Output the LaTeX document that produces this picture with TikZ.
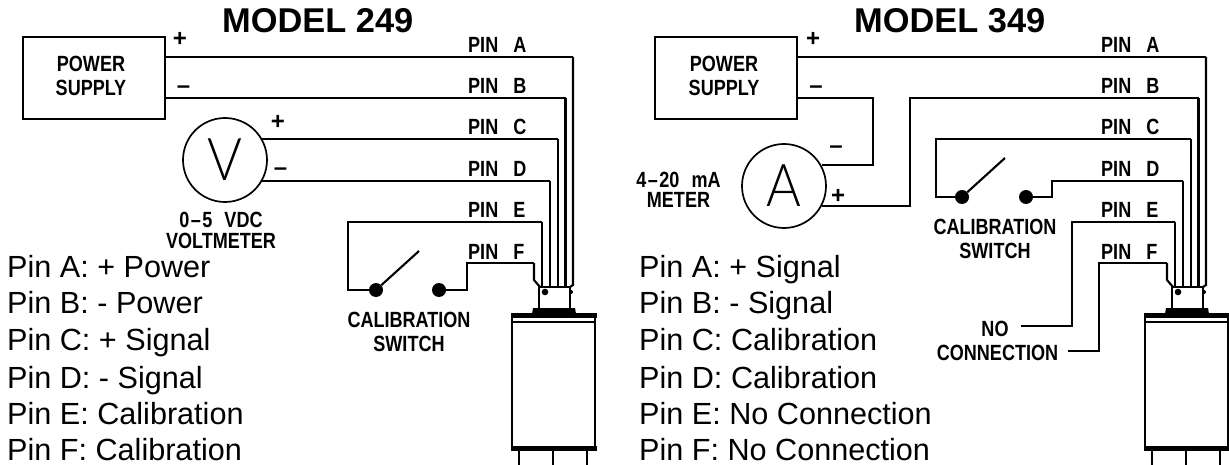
\documentclass[tikz,border=0pt]{standalone}
\usepackage{fontspec}
\setmainfont{Liberation Sans}
\newfontfamily\cadfont[FakeStretch=0.82]{Liberation Sans Bold}
\newfontfamily\thinfont[FakeStretch=0.9]{Lato Light}
\tikzset{
  x=1pt,y=-1pt,
  wire/.style={line width=2.1pt,line join=miter},
  thin wire/.style={line width=1.9pt},
  boxed/.style={draw,line width=2.1pt,minimum width=142pt,minimum height=82pt,inner sep=0pt,anchor=north west},
  meter/.style={draw,circle,line width=1.7pt,minimum size=84pt,inner sep=0pt,font=\fontsize{59}{59}\selectfont\thinfont},
  cad/.style={font=\fontsize{22}{#1}\selectfont\cadfont,align=center,inner sep=0pt},
  cadline/.style={font=\fontsize{22}{24}\selectfont\cadfont,inner sep=0pt,anchor=base},
  pinlab/.style={font=\fontsize{22}{22}\selectfont\cadfont,inner sep=0pt,anchor=base west},
  sign/.style={font=\fontsize{24}{24}\selectfont\bfseries,inner sep=0pt,anchor=base},
  title/.style={font=\fontsize{34.4}{34.4}\selectfont\bfseries,inner sep=0pt,anchor=base west},
  listing/.style={font=\fontsize{30.6}{30.6}\selectfont,inner sep=0pt,anchor=base west},
  dot/.style={circle,fill=black,minimum size=14pt,inner sep=0pt},
}
% #1 prefix, #2 x offset: sensor, connector, pin labels and the bundle of wires
\newcommand{\sensor}[2]{
  \begin{scope}[xshift=#2pt]
    \draw[line width=2.4pt] (512,317) -- (512,449) (595,317) -- (595,449);
    \fill (510.5,313) rectangle (596.5,318);
    \draw[line width=1.4pt] (512,322) -- (595,322);
    \fill (510.5,446) rectangle (596.5,451);
    \draw[line width=2pt] (519,450) -- (519,465) (553,450) -- (553,465) (587,450) -- (587,465);
    \fill (533,308) -- (575,308) -- (576,314) -- (532,314) -- cycle;
    \draw[line width=2pt] (538.5,308) -- (538.5,287) -- (570,287) -- (570,308);
    \fill (545,292) circle (3.3pt);
    \fill (571,292) circle (2pt);
    \node[pinlab] (#1a) at (468,52.7) {PIN\hspace{15pt}A};
    \node[pinlab] (#1b) at (468,94) {PIN\hspace{15pt}B};
    \node[pinlab] (#1c) at (468,135) {PIN\hspace{15pt}C};
    \node[pinlab] (#1d) at (468,176.7) {PIN\hspace{15pt}D};
    \node[pinlab] (#1e) at (468,217.7) {PIN\hspace{15pt}E};
    \node[pinlab] (#1f) at (468,259) {PIN\hspace{15pt}F};
    \coordinate (#1A) at (573,57);
    \coordinate (#1B) at (565.5,98);
    \coordinate (#1C) at (558,139);
    \coordinate (#1D) at (550,181);
    \coordinate (#1E) at (542,222);
    \coordinate (#1F) at (534,263);
    \coordinate (#1Ae) at (573,285);
    \coordinate (#1Be) at (565.5,287);
    \coordinate (#1Ce) at (558,287);
    \coordinate (#1De) at (550,287);
    \coordinate (#1Ee) at (542,287);
    \coordinate (#1Fm) at (534,280);
    \coordinate (#1Fe) at (540,287);
    \draw[wire] (#1A) -- (#1Ae) -- ++(-3,2);
    \draw[wire] (#1B) -- (#1Be);
    \draw[wire] (#1C) -- (#1Ce);
    \draw[wire] (#1D) -- (#1De);
    \draw[wire] (#1E) -- (#1Ee);
    \draw[wire] (#1F) -- (#1Fm) -- (#1Fe);
  \end{scope}
}
\begin{document}
\begin{tikzpicture}
\useasboundingbox (0,0) rectangle (1229,465);
\sensor{l}{0}
\sensor{r}{633}
% ---------- MODEL 249
\node[title] (t1) at (222,33) {MODEL 249};
\node[boxed] (ps1) at (22,36) {};
\node[cad=24] (ps1t) at (91,76) {POWER\\SUPPLY};
\coordinate (ps1a) at (164,57);
\coordinate (ps1b) at (164,98);
\node[sign] (p1) at (180,47) {+};
\node[sign] (m1) at (183.5,93.5) {–};
\draw[wire] (ps1a) -- (lA);
\draw[wire] (ps1b) -- (lB);
\node[meter] (v) at (225,160) {V};
\coordinate (vc) at (262,139);
\coordinate (vd) at (262,181);
\node[sign] (p2) at (278,130) {+};
\node[sign] (m2) at (280.5,175.5) {–};
\draw[thin wire] (vc) -- (lC);
\draw[thin wire] (vd) -- (lD);
\node[cad=21] (vt) at (221,230) {0\hspace{1.5pt}–\hspace{1.5pt}5\hspace{12pt}VDC\\VOLTMETER};
\node[dot] (s1a) at (376,290) {};
\node[dot] (s1b) at (439,290) {};
\coordinate (s1t) at (419,251);
\coordinate (e1) at (348,222);
\coordinate (e2) at (348,290);
\coordinate (f1) at (467,263);
\coordinate (f2) at (467,290);
\draw[wire] (lE) -- (e1) -- (e2) -- (s1a);
\draw[wire] (lF) -- (f1) -- (f2) -- (s1b);
\draw[wire] (s1a) -- (s1t);
\node[cad=24] (s1l) at (409,331.5) {CALIBRATION\\SWITCH};
\node[listing] (l1) at (7,277) {Pin A: + Power};
\node[listing] (l2) at (7,313) {Pin B: - Power};
\node[listing] (l3) at (7,350) {Pin C: + Signal};
\node[listing] (l4) at (7,388) {Pin D: - Signal};
\node[listing] (l5) at (7,424) {Pin E: Calibration};
\node[listing] (l6) at (7,460) {Pin F: Calibration};
% ---------- MODEL 349
\node[title] (t2) at (854,33) {MODEL 349};
\node[boxed] (ps2) at (654,36) {};
\node[cad=24] (ps2t) at (724,76) {POWER\\SUPPLY};
\coordinate (ps2a) at (796,57);
\coordinate (ps2b) at (796,98);
\node[sign] (p3) at (813,47) {+};
\node[sign] (m3) at (816,93.5) {–};
\draw[wire] (ps2a) -- (rA);
\node[meter] (am) at (784,186) {A};
\coordinate (q1) at (873,98);
\coordinate (q2) at (873,165);
\coordinate (am1) at (822,165);
\draw[wire] (ps2b) -- (q1) -- (q2) -- (am1);
\node[sign] (m4) at (836,153.5) {–};
\node[sign] (p4) at (838,204) {+};
\coordinate (am2) at (822,206);
\coordinate (q3) at (910,206);
\coordinate (q4) at (910,98);
\draw[wire] (am2) -- (q3) -- (q4) -- (rB);
\node[cad=20] (amt) at (678.5,189.5) {4\hspace{1.5pt}–\hspace{1.5pt}20\hspace{12pt}mA\\METER};
\node[dot] (s2a) at (962,197) {};
\node[dot] (s2b) at (1026,197) {};
\coordinate (s2t) at (1005,158);
\coordinate (c1) at (936,139);
\coordinate (c2) at (936,197);
\coordinate (d1) at (1052,181);
\coordinate (d2) at (1052,197);
\draw[wire] (rC) -- (c1) -- (c2) -- (s2a);
\draw[wire] (rD) -- (d1) -- (d2) -- (s2b);
\draw[wire] (s2a) -- (s2t);
\node[cad=24] (s2l) at (995,238.5) {CALIBRATION\\SWITCH};
\node[cadline] (nc1) at (995,336) {NO};
\node[cadline] (nc2) at (997.5,360) {CONNECTION};
\coordinate (e3) at (1072,222);
\coordinate (e4) at (1072,326);
\coordinate (e5) at (1021,326);
\coordinate (f3) at (1099,263);
\coordinate (f4) at (1099,351);
\coordinate (f5) at (1068,351);
\draw[thin wire] (rE) -- (e3) -- (e4) -- (e5);
\draw[thin wire] (rF) -- (f3) -- (f4) -- (f5);
\node[listing] (r1) at (639,277) {Pin A: + Signal};
\node[listing] (r2) at (639,313) {Pin B: - Signal};
\node[listing] (r3) at (639,350) {Pin C: Calibration};
\node[listing] (r4) at (639,388) {Pin D: Calibration};
\node[listing] (r5) at (639,424) {Pin E: No Connection};
\node[listing] (r6) at (639,460) {Pin F: No Connection};
\end{tikzpicture}
\end{document}
